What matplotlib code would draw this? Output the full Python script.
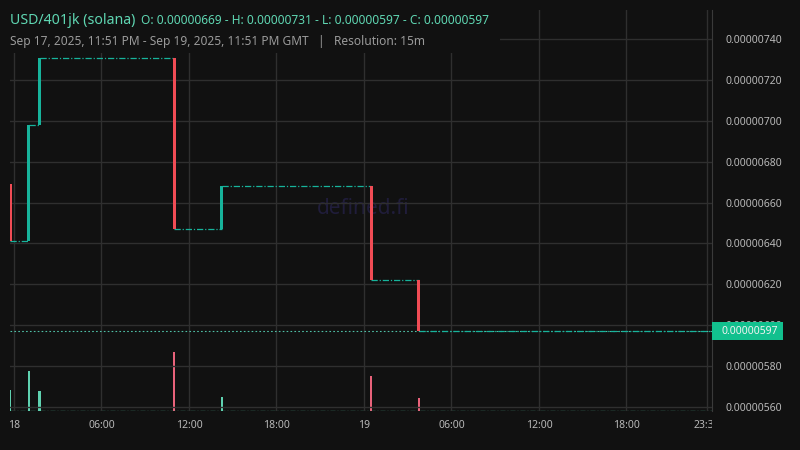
import matplotlib.pyplot as plt
from matplotlib.patches import Rectangle
from matplotlib.transforms import Bbox, TransformedBbox, blended_transform_factory

BG = "#111111"
GRID = "#2f2f2f"
UP = "#17b39b"
DOWN = "#f04c55"
VOL_UP = "#5fd1b0"
VOL_DOWN = "#e8627a"
TEXT = "#b8b8b8"

# hours since Sep 18 00:00 (GMT), one 15m candle each
candle_hours = [-0.25, 1.0, 1.75, 11.0, 14.25, 24.5, 27.75]
opens = [6.69e-6, 6.41e-6, 6.98e-6, 7.31e-6, 6.47e-6, 6.68e-6, 6.22e-6]
closes = [6.41e-6, 6.98e-6, 7.31e-6, 6.47e-6, 6.68e-6, 6.22e-6, 5.97e-6]
volumes = [1.05, 2.0, 1.0, 2.95, 0.7, 1.75, 0.65]
volume_up = [True, True, True, False, True, False, False]

x_start, x_end = -0.274, 47.87
y_ticks = [5.6e-6, 5.8e-6, 6.0e-6, 6.2e-6, 6.4e-6, 6.6e-6, 6.8e-6, 7.0e-6, 7.2e-6, 7.4e-6]
x_ticks = [0, 6, 12, 18, 24, 30, 36, 42, 47.5]
x_labels = ["18", "06:00", "12:00", "18:00", "19", "06:00", "12:00", "18:00", "23:30"]
last_close = 5.97e-6

plt.rcParams["font.family"] = ["Noto Sans", "DejaVu Sans"]

fig = plt.figure(figsize=(8, 4.5), dpi=100, facecolor=BG)
ax = fig.add_axes([10 / 800, 39 / 450, 702 / 800, 401 / 450])
ax.set_facecolor(BG)

# volume overlay
vax = ax.twinx()
vax.set_zorder(0)
ax.set_zorder(1)
ax.patch.set_visible(False)
vax.patch.set_facecolor(BG)
vol_colors = [VOL_UP if up else VOL_DOWN for up in volume_up]
vax.bar(candle_hours, volumes, width=0.14, color=vol_colors, zorder=3)
vax.plot([x_start, x_end], [0.01, 0.01], color=VOL_UP, linewidth=0.9,
         linestyle=(0, (4, 1.5, 1, 1.5)), zorder=3)
vax.set_ylim(0, max(volumes) * 401 / 59)
vax.set_yticks([])
for s in vax.spines.values():
    s.set_visible(False)

# watermark
ax.text(0.503, 0.505, "defined.fi", transform=ax.transAxes, ha="center", va="center",
        fontsize=15, color="#201d3b", zorder=0)

# flat segments between candles (closes carried forward)
flat_style = (0, (5, 1.5, 1, 1.5))
next_hours = candle_hours[1:] + [x_end]
for h0, h1, c in zip(candle_hours, next_hours, closes):
    ax.plot([h0, h1], [c, c], color=UP, linewidth=0.9, linestyle=flat_style, zorder=2)

# candle bodies
for h, o, c in zip(candle_hours, opens, closes):
    color = UP if c >= o else DOWN
    ax.bar(h, abs(c - o), bottom=min(o, c), width=0.22, color=color, zorder=4)

# last price line
ax.axhline(last_close, color="#4fbfa5", linewidth=0.8, linestyle=(0, (1.5, 2)), zorder=1)

ax.set_xlim(x_start, x_end)
ax.set_ylim(5.578e-6, 7.544e-6)
ax.set_yticks(y_ticks)
ax.set_yticklabels([f"{v:.8f}" for v in y_ticks])
ax.yaxis.tick_right()
ax.set_xticks(x_ticks)
ax.set_xticklabels([])
ax.tick_params(axis="both", length=0, colors=TEXT, labelsize=7.5)
ax.tick_params(axis="y", pad=10)
ax.grid(True, color=GRID, linewidth=1)
ax.set_axisbelow(True)
for name, s in ax.spines.items():
    s.set_visible(name == "right")
ax.spines["right"].set_color("#3a3a3a")

# time labels, clipped at the price scale like the original
xtr = blended_transform_factory(ax.transData, ax.transAxes)
clip = TransformedBbox(Bbox([[0, -0.2], [1, 1]]), ax.transAxes)
for h, lab in zip(x_ticks, x_labels):
    t = ax.text(h, -14 / 401, lab, transform=xtr, ha="center", va="center",
                fontsize=7.5, color=TEXT,
                fontweight="bold" if lab in ("18", "19") else "normal")
    t.set_clip_box(clip)
    t.set_clip_on(True)

# current price label
tr = blended_transform_factory(ax.transAxes, ax.transData)
ax.add_patch(Rectangle((1.0, 5.928e-6), 71 / 702, 0.084e-6, transform=tr,
                       facecolor="#12c08e", edgecolor="none", clip_on=False, zorder=6))
ax.text(1.0 + 10 / 702, 5.97e-6, f"{last_close:.8f}", transform=tr, ha="left", va="center",
        fontsize=7.5, color="#f2f2f2", zorder=7, clip_on=False)

# header
fig.patches.append(Rectangle((0, 1 - 53 / 450), 500 / 800, 53 / 450, transform=fig.transFigure,
                             facecolor=BG, edgecolor="none", zorder=1))
fig.text(10 / 800, 1 - 20 / 450, "USD/401jk (solana)", fontsize=10.2, color="#5fd6b2",
         va="center", ha="left")
fig.text(141 / 800, 1 - 20 / 450,
         "O: 0.00000669 - H: 0.00000731 - L: 0.00000597 - C: 0.00000597",
         fontsize=8.6, color="#5fd6b2", va="center", ha="left")
fig.text(10 / 800, 1 - 41 / 450,
         "Sep 17, 2025, 11:51 PM - Sep 19, 2025, 11:51 PM GMT   |   Resolution: 15m",
         fontsize=8.6, color="#9a9a9a", va="center", ha="left")

fig.savefig("out.png", dpi=100, facecolor=BG)
